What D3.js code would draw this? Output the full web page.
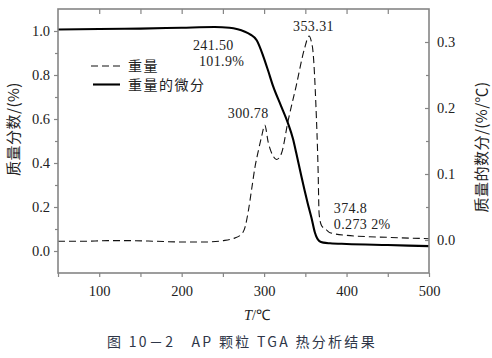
<!DOCTYPE html>
<html><head><meta charset="utf-8">
<script src="https://cdn.jsdelivr.net/npm/d3@7"></script>
<style>
body{margin:0;background:#fff;}
svg{display:block;}
</style></head>
<body>
<svg id="c" width="492" height="358"></svg>
<script>
// ---- data ----
const xTicks = [100, 200, 300, 400, 500];
const xMinor = [150, 250, 350, 450];
const xTopTicks = [100, 150, 200, 250, 300, 350, 400, 450];
const leftTicks = [0.0, 0.2, 0.4, 0.6, 0.8, 1.0];
const leftMinor = [0.1, 0.3, 0.5, 0.7, 0.9];
const rightTicks = [0.0, 0.1, 0.2, 0.3];
const rightMinor = [0.05, 0.15, 0.25];

// weight fraction (solid, left axis)
const weightT = [50, 100, 150, 200, 240, 258, 268, 276, 283, 291, 299, 305, 311, 320, 329, 335, 339, 344, 349, 353, 357.5, 361.5, 364, 367, 372, 380, 400, 450, 500];
const weightV = [1.007, 1.009, 1.011, 1.015, 1.018, 1.015, 1.008, 0.998, 0.985, 0.958, 0.885, 0.818, 0.748, 0.664, 0.580, 0.510, 0.445, 0.360, 0.277, 0.215, 0.150, 0.085, 0.060, 0.045, 0.038, 0.035, 0.032, 0.027, 0.022];

// derivative (dashed, right axis)
const derivT = [50, 80, 110, 140, 170, 200, 230, 250, 262, 272, 277, 281, 285, 289, 293, 297, 300.8, 305, 311, 315, 321, 329, 339, 349, 354.5, 357, 359.5, 362.7, 365.5, 366.7, 369.6, 375, 380, 400, 450, 500];
const derivV = [-0.002, -0.002, -0.001, -0.001, -0.002, -0.003, -0.003, -0.001, 0.002, 0.008, 0.020, 0.045, 0.078, 0.111, 0.135, 0.157, 0.174, 0.148, 0.127, 0.122, 0.131, 0.180, 0.234, 0.290, 0.309, 0.302, 0.283, 0.208, 0.105, 0.040, 0.022, 0.016, 0.011, 0.007, 0.004, 0.002];

const legendLabels = ["重量", "重量的微分"];
const annotations = [
  {text: "241.50", tx: 241.5, ty: 1.0},
  {text: "101.9%", tx: 241.5, ty: 1.0},
  {text: "353.31", tx: 353.31, ty: 0.31},
  {text: "300.78", tx: 300.78, ty: 0.175},
  {text: "374.8", tx: 374.8, ty: 0.0},
  {text: "0.273 2%", tx: 374.8, ty: 0.0}
];
const xLabelT = "T", xLabelUnit = "/℃";
const leftLabel = "质量分数/(%)";
const rightLabel = "质量的数分/(%/℃)";
const caption = "图 10－2　AP 颗粒 TGA 热分析结果";

// ---- layout ----
const L = 58, R = 429, T = 9, B = 273;
const x = d3.scaleLinear().domain([50, 500]).range([L, R]);
const yL = d3.scaleLinear().domain([-0.1, 1.1]).range([B, T]);
const yR = d3.scaleLinear().domain([-0.05, 0.35]).range([B, T]);

const svg = d3.select("#c");
const axisColor = "#858585";
const serif = "'Liberation Serif','Times New Roman',serif";
const cjk = "'Noto Sans CJK SC',sans-serif";

// curves
const lineW = d3.line().x(d => x(d[0])).y(d => yL(d[1])).curve(d3.curveMonotoneX);
const lineD = d3.line().x(d => x(d[0])).y(d => yR(d[1])).curve(d3.curveMonotoneX);

svg.append("path").datum(derivT.map((t, i) => [t, derivV[i]]))
  .attr("d", lineD).attr("fill", "none").attr("stroke", "#111")
  .attr("stroke-width", 1.1).attr("stroke-dasharray", "7,4");
svg.append("path").datum(weightT.map((t, i) => [t, weightV[i]]))
  .attr("d", lineW).attr("fill", "none").attr("stroke", "#000")
  .attr("stroke-width", 2.1);

// axes
function styleAxis(g) {
  g.select(".domain").remove();
  g.selectAll(".tick line").attr("stroke", axisColor).attr("stroke-width", 1.2);
  g.selectAll(".tick text").attr("fill", "#222").style("font-family", serif).style("font-size", "14.5px");
}
svg.append("g").attr("transform", `translate(0,${B})`)
  .call(d3.axisBottom(x).tickValues(xTicks).tickSize(4).tickPadding(9).tickFormat(d3.format("d")))
  .call(styleAxis);
svg.append("g").attr("transform", `translate(0,${B})`)
  .call(d3.axisBottom(x).tickValues(xMinor.concat([50])).tickSize(4).tickFormat(""))
  .call(styleAxis);
svg.append("g").attr("transform", `translate(0,${T})`)
  .call(d3.axisTop(x).tickValues(xTopTicks).tickSize(-5).tickFormat(""))
  .call(styleAxis);
svg.append("g").attr("transform", `translate(${L},0)`)
  .call(d3.axisLeft(yL).tickValues(leftTicks).tickSize(4).tickPadding(4).tickFormat(d3.format(".1f")))
  .call(styleAxis);
svg.append("g").attr("transform", `translate(${L},0)`)
  .call(d3.axisLeft(yL).tickValues(leftMinor).tickSize(3).tickFormat(""))
  .call(styleAxis);
svg.append("g").attr("transform", `translate(${R},0)`)
  .call(d3.axisRight(yR).tickValues(rightTicks).tickSizeInner(-4).tickSizeOuter(0).tickPadding(8).tickFormat(d3.format(".1f")))
  .call(styleAxis);
svg.append("g").attr("transform", `translate(${R},0)`)
  .call(d3.axisRight(yR).tickValues(rightMinor).tickSizeInner(-3).tickSizeOuter(0).tickFormat(""))
  .call(styleAxis);

// frame
svg.append("rect").attr("x", L).attr("y", T).attr("width", R - L).attr("height", B - T)
  .attr("fill", "none").attr("stroke", axisColor).attr("stroke-width", 1.6);

// annotations (label offsets from their data anchor)
const annOff = [[-23, 19], [-17, 35], [-15, -4], [-37, -6.5], [8, -27.5], [8, -11]];
annotations.forEach((a, i) => {
  const yy = (i < 2) ? yL(a.ty) : yR(a.ty);
  svg.append("text").attr("x", x(a.tx) + annOff[i][0]).attr("y", yy + annOff[i][1])
    .text(a.text).attr("fill", "#222").style("font-family", serif).style("font-size", "14px")
    .style("letter-spacing", "0.4px");
});

// legend
const lg = svg.append("g");
lg.append("line").attr("x1", 91).attr("x2", 121).attr("y1", 66).attr("y2", 66)
  .attr("stroke", "#111").attr("stroke-width", 1.2).attr("stroke-dasharray", "7,4");
lg.append("line").attr("x1", 93).attr("x2", 120).attr("y1", 84.5).attr("y2", 84.5)
  .attr("stroke", "#000").attr("stroke-width", 2.1);
lg.selectAll("text.lg").data(legendLabels).enter().append("text")
  .attr("x", 128).attr("y", (d, i) => 71 + i * 19)
  .text(d => d).attr("fill", "#222").style("font-family", cjk).style("font-size", "14px")
  .style("letter-spacing", "1.5px");

// axis titles
const xl = svg.append("text").attr("x", 257).attr("y", 320).attr("text-anchor", "middle")
  .attr("fill", "#222").style("font-family", serif).style("font-size", "14.5px");
xl.append("tspan").style("font-style", "italic").text(xLabelT);
xl.append("tspan").text(xLabelUnit);

svg.append("text").attr("transform", "translate(12,129) rotate(-90)")
  .attr("text-anchor", "middle").attr("dominant-baseline", "central")
  .attr("fill", "#222").style("font-family", cjk).style("font-size", "15px")
  .style("letter-spacing", "0.5px").text(leftLabel);
svg.append("text").attr("transform", "translate(480,147) rotate(-90)")
  .attr("text-anchor", "middle").attr("dominant-baseline", "central")
  .attr("fill", "#222").style("font-family", cjk).style("font-size", "15px")
  .style("letter-spacing", "0.5px").text(rightLabel);

// caption
svg.append("text").attr("x", 107).attr("y", 347)
  .attr("fill", "#2e3648").style("font-family", cjk).style("font-size", "14px")
  .style("letter-spacing", "2.3px").text(caption);
</script>
</body></html>
